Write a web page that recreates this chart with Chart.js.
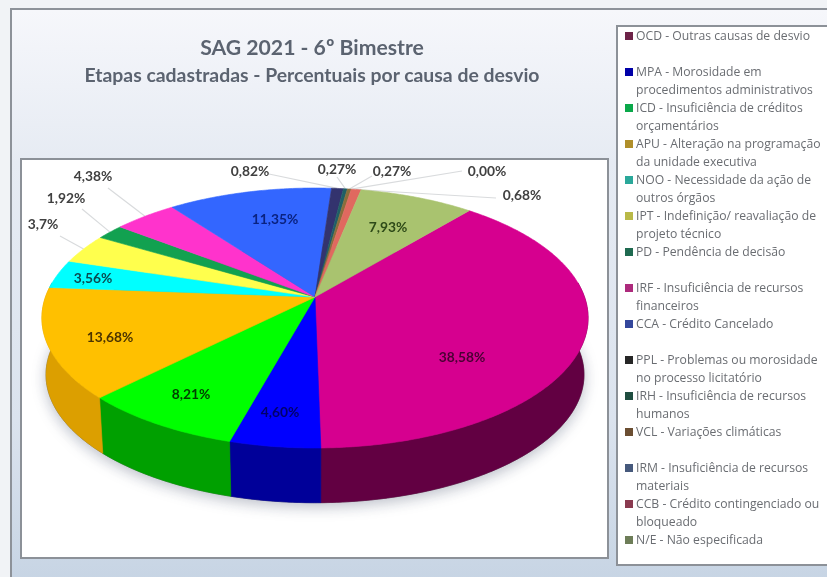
<!DOCTYPE html>
<html lang="pt">
<head>
<meta charset="utf-8">
<title>SAG 2021 - 6º Bimestre</title>
<script src="https://cdn.jsdelivr.net/npm/chart.js@4"></script>
<style>
    html, body { margin: 0; padding: 0; width: 827px; height: 577px; overflow: hidden; background: #f1f3f6; }
    #frame { position: absolute; left: 10px; top: 8px; width: 830px; height: 590px; box-sizing: border-box;
             border: 2px solid #8d9299; background: linear-gradient(#f6f7fb 0%, #e6ebf3 26%, #dbe3ee 70%, #c5d3e3 100%); }
    #plot { position: absolute; left: 20px; top: 158px; width: 589px; height: 401px; box-sizing: border-box;
            background: #fff; border: 2px solid #8c9198; }
    #legend { position: absolute; left: 616px; top: 25px; width: 220px; height: 541px; box-sizing: border-box;
              background: #fff; border: 2px solid #8c9198; }
    #titles { position: absolute; left: 12px; top: 34px; width: 600px; text-align: center; color: #5b6370;
              font-family: Lato, sans-serif; font-weight: 700; filter: blur(0.5px); }
    #titles div:first-child { font-size: 21.2px; line-height: 27px; }
    #titles div:last-child { font-size: 19.4px; line-height: 27px; }
    canvas { position: absolute; left: 0; top: 0; filter: blur(0.6px); }
    .entry { position: absolute; left: 636px; width: 190px; font: 12.2px/18px "Open Sans", sans-serif;
             color: #6a6d72; white-space: pre-line; filter: blur(0.7px); }
    .swatch { position: absolute; left: -11px; top: 5px; width: 8px; height: 8px; }
</style>
</head>
<body>
<div id="frame"></div>
<div id="plot"></div>
<div id="legend"></div>
<div id="titles">
    <div>SAG 2021 - 6º Bimestre</div>
    <div>Etapas cadastradas - Percentuais por causa de desvio</div>
</div>
<canvas id="pieChart" width="827" height="577"></canvas>
<script>
const categories = [
    "OCD - Outras causas de desvio",
    "MPA - Morosidade em\nprocedimentos administrativos",
    "ICD - Insuficiência de créditos\norçamentários",
    "APU - Alteração na programação\nda unidade executiva",
    "NOO - Necessidade da ação de\noutros órgãos",
    "IPT - Indefinição/ reavaliação de\nprojeto técnico",
    "PD - Pendência de decisão",
    "IRF - Insuficiência de recursos\nfinanceiros",
    "CCA - Crédito Cancelado",
    "PPL - Problemas ou morosidade\nno processo licitatório",
    "IRH - Insuficiência de recursos\nhumanos",
    "VCL - Variações climáticas",
    "IRM - Insuficiência de recursos\nmateriais",
    "CCB - Crédito contingenciado ou\nbloqueado",
    "N/E - Não especificada"
];
const values = [38.58, 4.60, 8.21, 13.68, 3.56, 3.7, 1.92, 4.38, 11.35, 0.82, 0.27, 0.27, 0.00, 0.68, 7.93];
const valueLabels = ["38,58%", "4,60%", "8,21%", "13,68%", "3,56%", "3,7%", "1,92%", "4,38%", "11,35%",
                     "0,82%", "0,27%", "0,27%", "0,00%", "0,68%", "7,93%"];
const sliceColors = ["#d6008f", "#0000ff", "#00ff00", "#ffc000", "#00ffff", "#ffff4d", "#12a150", "#ff33cc",
                     "#3366ff", "#33336e", "#1f5f66", "#8a6d3b", "#6d8ab8", "#e0695f", "#a9c36f"];
const sideColors = ["#620042", "#000099", "#00a000", "#dc9f00", "#00a0a0", "#a0a030", "#0a6030", "#a02080",
                    "#2040a0", "#202045", "#103a40", "#55442a", "#445670", "#8c4039", "#6a7a45"];
const legendColors = ["#6d2348", "#0000a8", "#0aa84a", "#b08f2a", "#2aa89a", "#b9b948", "#1f6a50", "#ad2a7c",
                      "#34479c", "#262626", "#1f4d40", "#6b4e32", "#46597c", "#8a3a50", "#6d7d58"];
const labelColors = ["#4a0034", "#00006a", "#004000", "#4c3400", "#0a4a50", "#404040", "#404040", "#404040",
                     "#0a2280", "#404040", "#404040", "#404040", "#404040", "#404040", "#2e4a18"];

// label centre on the page, and where the leader line leaves it (null = label sits on the slice)
const labelPlaces = [
    [462, 358, null], [280, 413, null], [191, 395, null], [110, 338, null], [93, 279, null],
    [43, 225, [60, 236]], [66, 199, [82, 209]], [93, 177, [108, 188]], [275, 220, null],
    [250, 172, [269, 174]], [337, 170, [337, 177]], [392, 172, [372, 176]], [487, 172, [462, 171]],
    [522, 196, [496, 198]], [388, 228, null]
];

// perspective of the tilted disc, worked out from the picture
const disc = { x: 315, y: 297, rx: 269.5, ry: 126.6, tilt: -0.1615, depth: 57, shrink: 0.985 };

function project(angle, lowered) {
    const u = Math.cos(angle), v = Math.sin(angle);
    const w = 1 + disc.tilt * v;
    const s = lowered ? disc.shrink : 1;
    return {
        x: disc.x + disc.rx * u / w * s,
        y: disc.y + disc.ry * v / w * s + (lowered ? disc.depth : 0)
    };
}

function rimPoints(start, end, lowered) {
    const steps = Math.max(2, Math.ceil((end - start) / 0.01));
    const pts = [];
    for (let i = 0; i <= steps; i++) {
        pts.push(project(start + (end - start) * i / steps, lowered));
    }
    return pts;
}

function fillPoly(ctx, pts, color) {
    ctx.beginPath();
    pts.forEach((p, i) => (i ? ctx.lineTo(p.x, p.y) : ctx.moveTo(p.x, p.y)));
    ctx.closePath();
    ctx.fillStyle = color;
    ctx.fill();
    ctx.strokeStyle = color;
    ctx.lineWidth = 0.6;
    ctx.stroke();
}

// Chart.js has no 3D pie, so paint its arc elements through the perspective above
const tiltedPie = {
    id: "tiltedPie",
    beforeDatasetDraw(chart, args) {
        const ctx = chart.ctx;
        const arcs = args.meta.data;

        // leader lines
        ctx.strokeStyle = "#d9dbdd";
        ctx.lineWidth = 1.2;
        arcs.forEach((arc, i) => {
            const from = labelPlaces[i][2];
            if (!from) return;
            const rim = project((arc.startAngle + arc.endAngle) / 2, false);
            ctx.beginPath();
            ctx.moveTo(from[0], from[1]);
            ctx.lineTo(rim.x, rim.y);
            ctx.stroke();
        });

        // soft shadow under the disc
        ctx.save();
        ctx.shadowColor = "rgba(90,100,125,0.4)";
        ctx.shadowBlur = 14;
        ctx.shadowOffsetY = 4;
        fillPoly(ctx, rimPoints(0, Math.PI * 2, true), "#666");
        ctx.restore();

        // side wall, only the part facing the viewer
        arcs.forEach((arc, i) => {
            const top = [], bottom = [];
            rimPoints(arc.startAngle, arc.endAngle, false).forEach((p, j, all) => {
                const a = arc.startAngle + (arc.endAngle - arc.startAngle) * j / (all.length - 1);
                if (Math.sin(a) > -0.12) {
                    top.push(p);
                    bottom.unshift(project(a, true));
                }
            });
            if (top.length > 1) fillPoly(ctx, top.concat(bottom), sideColors[i]);
        });

        // top face
        arcs.forEach((arc, i) => {
            if (arc.endAngle - arc.startAngle < 1e-4) return;
            const pts = [{ x: disc.x, y: disc.y }].concat(rimPoints(arc.startAngle, arc.endAngle, false));
            fillPoly(ctx, pts, sliceColors[i]);
        });

        // value labels
        ctx.font = "700 13.8px Lato, sans-serif";
        ctx.textAlign = "center";
        ctx.textBaseline = "middle";
        arcs.forEach((arc, i) => {
            ctx.fillStyle = labelColors[i];
            ctx.fillText(valueLabels[i], labelPlaces[i][0], labelPlaces[i][1]);
        });
        return false;
    }
};

const pieChart = new Chart(document.getElementById("pieChart").getContext("2d"), {
    type: "pie",
    data: {
        labels: categories,
        datasets: [{ data: values, backgroundColor: sliceColors, borderWidth: 0 }]
    },
    options: {
        responsive: false,
        animation: false,
        rotation: 40,
        plugins: { legend: { display: false }, tooltip: { enabled: false } }
    },
    plugins: [tiltedPie]
});

// legend panel: every entry takes two text rows
categories.forEach((text, i) => {
    const entry = document.createElement("div");
    entry.className = "entry";
    entry.style.top = (27 + i * 36) + "px";
    entry.textContent = text;
    const swatch = document.createElement("span");
    swatch.className = "swatch";
    swatch.style.background = legendColors[i];
    entry.appendChild(swatch);
    document.body.appendChild(entry);
});
</script>
</body>
</html>
